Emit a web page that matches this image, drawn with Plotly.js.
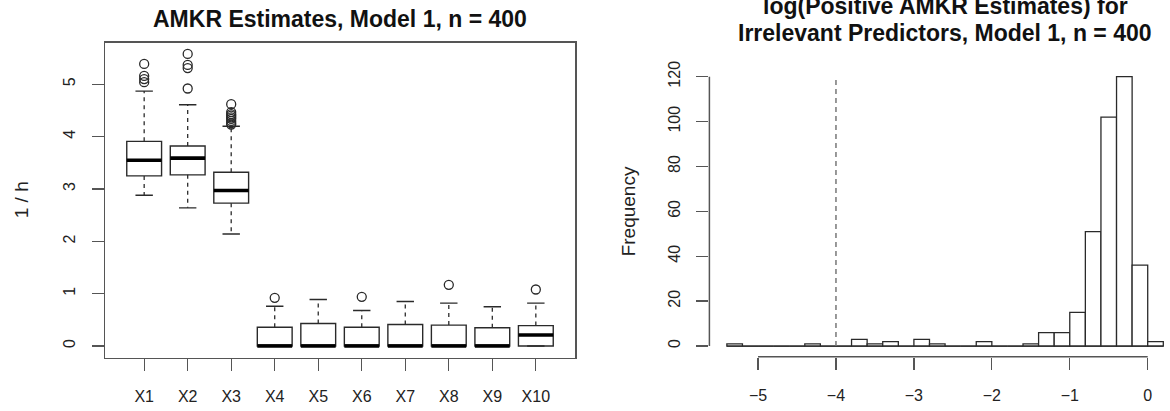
<!DOCTYPE html>
<html>
<head>
<meta charset="utf-8">
<script src="https://cdn.plot.ly/plotly-3.0.1.min.js"></script>
<style>html,body{margin:0;padding:0;background:#fff;}#chart{width:1170px;height:411px;}</style>
</head>
<body>
<div id="chart"></div>
<script>
// ---------- Left panel: box plot summary ----------
const categories = ['X1','X2','X3','X4','X5','X6','X7','X8','X9','X10'];
const q1Values     = [3.25, 3.27, 2.73, 0, 0, 0, 0, 0, 0, 0];
const medianValues = [3.55, 3.59, 2.97, 0, 0, 0, 0, 0, 0, 0.21];
const q3Values     = [3.91, 3.82, 3.32, 0.36, 0.43, 0.36, 0.41, 0.40, 0.35, 0.39];
const lowerWhisker = [2.88, 2.64, 2.14, 0, 0, 0, 0, 0, 0, 0];
const upperWhisker = [4.87, 4.61, 4.20, 0.76, 0.89, 0.68, 0.85, 0.82, 0.75, 0.82];
const outlierValues = [
  [5.39, 5.16, 5.10, 5.04],
  [5.58, 5.37, 5.31, 4.92],
  [4.62, 4.47, 4.43, 4.40, 4.37, 4.34, 4.30, 4.26, 4.23],
  [0.92],
  [],
  [0.94],
  [],
  [1.17],
  [],
  [1.08]
];
const boxYTicks = [0, 1, 2, 3, 4, 5];

// ---------- Right panel: histogram ----------
const histBreaks = [-5.4,-5.2,-5.0,-4.8,-4.6,-4.4,-4.2,-4.0,-3.8,-3.6,-3.4,-3.2,-3.0,-2.8,-2.6,-2.4,-2.2,-2.0,-1.8,-1.6,-1.4,-1.2,-1.0,-0.8,-0.6,-0.4,-0.2,0.0,0.2];
const histCounts = [1,0,0,0,0,1,0,0,3,1,2,0,3,1,0,0,2,0,0,1,6,6,15,51,102,120,36,2];
const histXTicks = [-5, -4, -3, -2, -1, 0];
const histYTicks = [0, 20, 40, 60, 80, 100, 120];
const refLineX = -4;
const refLineY = [0, 120];

// ---------- styles ----------
const W = 1170, H = 411;
const FONT = '"Liberation Sans", Arial, Helvetica, sans-serif';
const INK = '#2a2a2a';
const AXC = '#555555';
const BOXWEX = 0.8, STAPLE = 0.2;

const xPos = categories.map((c, i) => i + 1);

const traces = [];

// boxes (whiskers drawn separately, dashed like R)
traces.push({
  type: 'box', x: xPos, q1: q1Values, median: medianValues, q3: q3Values,
  lowerfence: q1Values, upperfence: q3Values,
  width: BOXWEX, boxpoints: false,
  fillcolor: '#ffffff', line: {color: INK, width: 1.4},
  xaxis: 'x', yaxis: 'y', hoverinfo: 'skip', showlegend: false
});

// dashed whiskers
const wx = [], wy = [];
xPos.forEach((x, i) => {
  wx.push(x, x, null, x, x, null);
  wy.push(q3Values[i], upperWhisker[i], null, q1Values[i], lowerWhisker[i], null);
});
traces.push({type: 'scatter', mode: 'lines', x: wx, y: wy, line: {color: INK, width: 1.3, dash: '4px,4px'},
  xaxis: 'x', yaxis: 'y', hoverinfo: 'skip', showlegend: false});

// staples
const sx = [], sy = [];
xPos.forEach((x, i) => {
  sx.push(x - STAPLE, x + STAPLE, null, x - STAPLE, x + STAPLE, null);
  sy.push(upperWhisker[i], upperWhisker[i], null, lowerWhisker[i], lowerWhisker[i], null);
});
traces.push({type: 'scatter', mode: 'lines', x: sx, y: sy, line: {color: INK, width: 1.4},
  xaxis: 'x', yaxis: 'y', hoverinfo: 'skip', showlegend: false});

// thick medians
const mx = [], my = [];
xPos.forEach((x, i) => {
  mx.push(x - BOXWEX / 2, x + BOXWEX / 2, null);
  my.push(medianValues[i], medianValues[i], null);
});
traces.push({type: 'scatter', mode: 'lines', x: mx, y: my, line: {color: '#000', width: 3.6},
  xaxis: 'x', yaxis: 'y', hoverinfo: 'skip', showlegend: false});

// outliers
const ox = [], oy = [];
outlierValues.forEach((arr, i) => arr.forEach(v => { ox.push(xPos[i]); oy.push(v); }));
traces.push({type: 'scatter', mode: 'markers', x: ox, y: oy,
  marker: {symbol: 'circle-open', size: 9, color: INK, line: {width: 1.3, color: INK}},
  xaxis: 'x', yaxis: 'y', hoverinfo: 'skip', showlegend: false});

// histogram baseline (zero-height bins drawn as line in R)
traces.push({type: 'scatter', mode: 'lines',
  x: [histBreaks[0], histBreaks[histBreaks.length - 1]], y: [0, 0],
  line: {color: INK, width: 1.3}, xaxis: 'x2', yaxis: 'y2', hoverinfo: 'skip', showlegend: false});

// histogram bars
const centers = histCounts.map((c, i) => (histBreaks[i] + histBreaks[i + 1]) / 2);
const widths = histCounts.map((c, i) => histBreaks[i + 1] - histBreaks[i]);
traces.push({type: 'bar', x: centers, y: histCounts, width: widths,
  marker: {color: '#ffffff', line: {color: INK, width: 1.3}},
  xaxis: 'x2', yaxis: 'y2', hoverinfo: 'skip', showlegend: false});

// dashed reference line
traces.push({type: 'scatter', mode: 'lines', x: [refLineX, refLineX], y: refLineY,
  line: {color: '#777777', width: 1.5, dash: '5px,4px'},
  xaxis: 'x2', yaxis: 'y2', hoverinfo: 'skip', showlegend: false});

// ---------- layout (pixel geometry) ----------
const L = {x0: 105, x1: 575, y0: 42.8, y1: 357.7};     // left plot frame
const R = {x0: 709.4, x1: 1170, y0: 65.9, y1: 356.8};  // right plot region
const dx = p => p / W, dy = p => 1 - p / H;

const tickFont = {family: FONT, size: 16, color: '#222'};

const layout = {
  width: W, height: H,
  margin: {l: 0, r: 0, t: 0, b: 0, pad: 0},
  paper_bgcolor: '#ffffff', plot_bgcolor: 'rgba(0,0,0,0)',
  showlegend: false, bargap: 0,
  font: {family: FONT, color: '#222'},
  xaxis: {
    domain: [dx(L.x0), dx(L.x1)], range: [0.1, 10.9],
    tickvals: xPos, ticktext: categories, ticks: 'outside', ticklen: 12, tickwidth: 1.3, tickcolor: AXC,
    showline: true, mirror: true, linecolor: AXC, linewidth: 1.5,
    showgrid: false, zeroline: false, tickfont: tickFont, ticklabelstandoff: 12, fixedrange: true
  },
  yaxis: {
    domain: [dy(L.y1), dy(L.y0)], range: [-0.223, 5.793],
    tickvals: boxYTicks, ticks: 'outside', ticklen: 12, tickwidth: 1.3, tickcolor: AXC,
    showline: true, mirror: true, linecolor: AXC, linewidth: 1.5,
    showgrid: false, zeroline: false, tickangle: -90, tickfont: tickFont, ticklabelstandoff: 10, fixedrange: true
  },
  xaxis2: {
    domain: [dx(R.x0), dx(R.x1)], range: [-5.624, 0.286], anchor: 'y2',
    tickvals: histXTicks, ticktext: histXTicks.map(v => v < 0 ? '\u2212' + Math.abs(v) : String(v)),
    ticks: 'outside', ticklen: 12, tickwidth: 1.3, tickcolor: AXC,
    showline: false, showgrid: false, zeroline: false, tickfont: tickFont, ticklabelstandoff: 12, fixedrange: true
  },
  yaxis2: {
    domain: [dy(R.y1), dy(R.y0)], range: [-4.8, 124.8], anchor: 'x2',
    tickvals: histYTicks, ticks: 'outside', ticklen: 12, tickwidth: 1.3, tickcolor: AXC,
    showline: false, showgrid: false, zeroline: false, tickangle: -90, tickfont: tickFont, ticklabelstandoff: 10, fixedrange: true
  },
  shapes: [
    {type: 'line', xref: 'x2', yref: 'y2 domain', x0: Math.min(...histXTicks), x1: Math.max(...histXTicks), y0: 0, y1: 0,
     line: {color: AXC, width: 1.5}},
    {type: 'line', xref: 'x2 domain', yref: 'y2', x0: 0, x1: 0, y0: Math.min(...histYTicks), y1: Math.max(...histYTicks),
     line: {color: AXC, width: 1.5}}
  ],
  annotations: [
    {text: '<b>AMKR Estimates, Model 1, n = 400</b>', xref: 'paper', yref: 'paper',
     x: dx((L.x0 + L.x1) / 2), y: dy(18.5), xanchor: 'center', yanchor: 'middle', showarrow: false,
     font: {family: FONT, size: 23, color: '#111'}},
    {text: '<b>log(Positive AMKR Estimates) for</b>', xref: 'paper', yref: 'paper',
     x: dx(945), y: dy(5.5), xanchor: 'center', yanchor: 'middle', showarrow: false,
     font: {family: FONT, size: 23, color: '#111'}},
    {text: '<b>Irrelevant Predictors, Model 1, n = 400</b>', xref: 'paper', yref: 'paper',
     x: dx(945), y: dy(33.5), xanchor: 'center', yanchor: 'middle', showarrow: false,
     font: {family: FONT, size: 23, color: '#111'}},
    {text: '1 / h', xref: 'paper', yref: 'paper', x: dx(21), y: dy((L.y0 + L.y1) / 2),
     xanchor: 'center', yanchor: 'middle', textangle: -90, showarrow: false,
     font: {family: FONT, size: 19, color: '#222'}},
    {text: 'Frequency', xref: 'paper', yref: 'paper', x: dx(628), y: dy((R.y0 + R.y1) / 2),
     xanchor: 'center', yanchor: 'middle', textangle: -90, showarrow: false,
     font: {family: FONT, size: 19, color: '#222'}}
  ]
};

Plotly.newPlot('chart', traces, layout, {displayModeBar: false, staticPlot: true});
</script>
</body>
</html>
